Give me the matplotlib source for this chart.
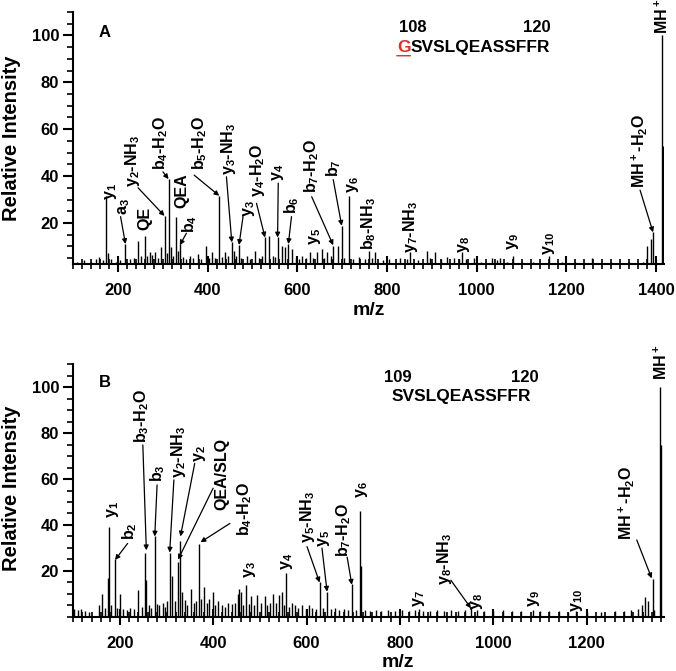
import matplotlib
matplotlib.use("Agg")
import matplotlib.pyplot as plt
from matplotlib.ticker import MultipleLocator

plt.rcParams["font.family"] = ["Liberation Sans", "DejaVu Sans"]
plt.rcParams["font.weight"] = "bold"
plt.rcParams["mathtext.fontset"] = "custom"
plt.rcParams["mathtext.rm"] = "Liberation Sans:bold"
plt.rcParams["mathtext.bf"] = "Liberation Sans:bold"
plt.rcParams["mathtext.default"] = "bf"

# ---- panel A: GSVSLQEASSFFR ----
a_mz = [108, 125, 140, 152, 159, 166, 174, 178, 185, 195, 205, 217, 226, 235, 245, 252, 260, 265,
        271, 276, 282, 289, 297, 304, 309, 313, 319, 324, 330, 334, 338, 345, 352, 360, 368, 379,
        386, 397, 403, 409, 416, 426, 432, 439, 446, 454, 458, 463, 470, 475, 487, 494, 506, 514,
        521, 528, 537, 545, 550, 556, 565, 573, 580, 588, 596, 603, 610, 619, 628, 636, 643, 654,
        660, 666, 674, 680, 690, 699, 705, 715, 725, 738, 750, 759, 766, 773, 790, 805, 830, 845,
        852, 868, 889, 896, 908, 921, 934, 950, 960, 967, 975, 993, 1010, 1034, 1045, 1052, 1068,
        1081, 1100, 1125, 1160, 1190, 1220, 1257, 1300, 1340, 1370, 1380, 1388, 1393, 1414, 1416]
a_int = [3.5, 4, 3.5, 4.5, 5.3, 4, 31.3, 7, 4.6, 3.5, 4, 11, 4.5, 5, 12.4, 6, 14.6, 6,
         7.7, 6.5, 7.7, 5, 9.6, 23, 7, 38.7, 9.6, 6, 22.4, 8, 11, 5.5, 4.5, 6, 5, 6.8,
         4.5, 10.3, 5, 7.5, 5, 31.6, 5.5, 7.5, 6, 11.7, 8, 6, 10.6, 5, 6, 4.5, 8, 5,
         6, 13.8, 14.6, 6, 5.5, 13.8, 10.3, 9.6, 11, 8.9, 5, 4.5, 6, 5, 7.5, 5, 7.5, 8.9,
         5, 7.5, 6, 10, 10, 18.8, 5, 31.6, 4.5, 5.5, 4.5, 8, 5, 7.5, 4, 4.5, 5, 4.5,
         7.5, 4, 8, 5, 7.5, 4.5, 5.3, 5, 4.5, 7.5, 4.5, 5, 3.5, 5, 4, 5, 3.5,
         6, 3.5, 3.5, 6, 3.5, 3.5, 5, 3.5, 3.5, 3.5, 10, 13, 16, 100, 53]

# label, text x, text y, arrow start (or None), arrow end
a_labels = [
    ("y$_1$", 185, 29.8, None, None),
    ("a$_3$", 215, 23.4, (206, 22.7), (217, 11)),
    ("QE", 260, 17, None, None),
    ("y$_2$-NH$_3$", 233.5, 35.5, (245, 35), (304, 23)),
    ("b$_4$-H$_2$O", 294.6, 42.5, (300.5, 41.8), (313, 38.7)),
    ("QEA", 343.7, 26.5, None, None),
    ("b$_4$", 360, 15.6, (352.7, 15.6), (338, 10.5)),
    ("b$_5$-H$_2$O", 382.5, 42.5, (370, 40.4), (426, 31.6)),
    ("y$_3$-NH$_3$", 446, 40.4, (442, 39.7), (454, 11.7)),
    ("y$_3$", 492, 22.7, (479, 22.7), (470, 10.6)),
    ("y$_4$-H$_2$O", 511, 31, (509, 28.4), (528, 13.8)),
    ("y$_4$", 557.5, 38, (557.5, 37), (556, 13.8)),
    ("b$_6$", 587, 24, (587, 22.7), (580, 11)),
    ("y$_5$", 640, 10.6, None, None),
    ("b$_7$-H$_2$O", 632, 32.6, (632, 31.2), (680, 10.5)),
    ("b$_7$", 680, 39.7, (680, 38.5), (699, 18.8)),
    ("y$_6$", 725, 32.6, None, None),
    ("b$_8$-NH$_3$", 759, 8.5, None, None),
    ("y$_7$-NH$_3$", 852, 7.2, None, None),
    ("y$_8$", 971, 7, None, None),
    ("y$_9$", 1081, 8.5, None, None),
    ("y$_{10}$", 1162, 6.4, None, None),
    ("MH$^+$-H$_2$O", 1362, 35, (1364, 34), (1393, 16)),
    ("MH$^+$", 1414, 100.6, None, None),
]

# ---- panel B: SVSLQEASSFFR ----
b_mz = [103, 110, 117, 125, 135, 155, 162, 168, 175, 176, 182, 189, 195, 201, 208, 215, 222, 230,
        240, 248, 255, 257, 263, 268, 275, 280, 285, 292, 297, 302, 307, 312, 318, 324, 329, 334,
        340, 345, 352, 358, 363, 369, 375, 380, 386, 392, 399, 405, 410, 418, 425, 432, 440, 447,
        453, 455, 460, 465, 470, 476, 482, 488, 495, 502, 510, 516, 522, 529, 535, 540, 547, 552,
        556, 562, 568, 575, 582, 590, 598, 605, 612, 620, 628, 635, 644, 652, 660, 670, 680, 688,
        697, 705, 715, 717, 725, 735, 748, 760, 775, 790, 805, 820, 832, 841, 850, 865, 880, 895,
        910, 925, 940, 952, 966, 980, 1000, 1020, 1040, 1060, 1084, 1100, 1120, 1140, 1160, 1176,
        1200, 1230, 1260, 1280, 1295, 1310, 1318, 1325, 1332, 1341, 1345, 1357, 1359]
b_int = [3.5, 3, 3.5, 2.5, 2, 5, 9.8, 4, 16.8, 39, 5, 25, 4, 10, 3.5, 3, 4, 3.5,
         11.7, 4.5, 28, 16, 5, 4, 35, 5.5, 5, 6, 4.5, 7, 28, 18, 7, 24, 33, 11,
         7.5, 5, 12, 6, 7, 31.7, 8, 13, 6, 8, 11, 5, 7, 5, 4.5, 6, 5.5, 6,
         10, 12, 11, 5, 14, 5.5, 9, 5, 9.5, 6, 9, 5, 6, 10, 6, 9.5, 11, 5,
         19, 4.5, 6, 5, 4, 5, 3.5, 5, 4, 3.5, 15, 4, 11, 3.5, 4, 3, 3.5, 3,
         14.5, 3, 46, 22, 3, 2.5, 3, 2.5, 3, 2.5, 3, 2.5, 3, 3.6, 2.5, 2.5, 3, 2.5,
         3, 2.5, 3, 4, 3, 2.5, 2.5, 3, 2.5, 2.5, 3, 2.5, 2.5, 2.5, 2, 2.5,
         2, 2, 2.5, 2.5, 3, 3.5, 5, 8.7, 7, 16.7, 3, 100, 75]

b_labels = [
    ("y$_1$", 185, 43, None, None),
    ("b$_2$", 221, 33.5, (217, 32), (190, 24.8)),
    ("b$_3$-H$_2$O", 246, 75.6, (249.5, 74.8), (257, 29)),
    ("b$_3$", 282, 58.8, (280, 57.4), (275, 35)),
    ("y$_2$-NH$_3$", 325, 60.4, (316, 59.6), (307, 28)),
    ("y$_2$", 371, 67.5, (360.6, 66.8), (330, 35)),
    ("QEA/SLQ", 418, 46.5, (400, 56), (325, 25)),
    ("b$_4$-H$_2$O", 468, 35, (436, 40.7), (373, 32.5)),
    ("y$_3$", 479, 16.8, None, None),
    ("y$_4$", 558, 20.4, None, None),
    ("y$_5$-NH$_3$", 601, 32, (601, 30.6), (628, 15)),
    ("y$_5$", 636.6, 30.6, (633, 30), (644, 11)),
    ("b$_7$-H$_2$O", 680, 26, (687, 26), (697, 14)),
    ("y$_6$", 719, 51.6, None, None),
    ("y$_7$", 841, 4.5, None, None),
    ("y$_8$-NH$_3$", 895, 14, (909, 16), (952, 3.8)),
    ("y$_8$", 966, 3, None, None),
    ("y$_9$", 1086, 4.5, None, None),
    ("y$_{10}$", 1179, 2.3, None, None),
    ("MH$^+$-H$_2$O", 1285, 33.5, (1307, 33.5), (1339, 16.8)),
    ("MH$^+$", 1360, 103, None, None),
]


def draw_spectrum(ax, mz, inten, labels, xlim, ylim):
    ax.vlines(mz, 0, inten, color="black", lw=1.0)
    for text, tx, ty, start, end in labels:
        ax.text(tx, ty, text, rotation=90, ha="center", va="bottom", fontsize=11.5, fontweight="bold")
        if start is not None:
            ax.annotate("", xy=end, xytext=start,
                        arrowprops=dict(arrowstyle="-|>", color="black", lw=0.9,
                                        mutation_scale=7, shrinkA=0, shrinkB=0))
    ax.set_xlim(*xlim)
    ax.set_ylim(*ylim)
    for side in ("top", "right"):
        ax.spines[side].set_visible(False)
    for side in ("left", "bottom"):
        ax.spines[side].set_linewidth(1.5)
    ax.xaxis.set_major_locator(MultipleLocator(200))
    ax.xaxis.set_minor_locator(MultipleLocator(20))
    ax.yaxis.set_minor_locator(MultipleLocator(5))
    ax.set_yticks([20, 40, 60, 80, 100])
    ax.tick_params(axis="x", which="major", direction="inout", length=12, width=1.5, pad=8, labelsize=12)
    ax.tick_params(axis="x", which="minor", direction="inout", length=7, width=1.2)
    ax.tick_params(axis="y", which="major", direction="out", length=7, width=1.5, pad=3, labelsize=12)
    ax.tick_params(axis="y", which="minor", direction="out", length=4, width=1.2)
    for lab in ax.get_xticklabels() + ax.get_yticklabels():
        lab.set_fontweight("bold")
    ax.set_ylabel("Relative Intensity", fontsize=14.5, fontweight="bold")
    ax.set_xlabel("m/z", fontsize=14, fontweight="bold")


fig = plt.figure(figsize=(6.76, 6.71), dpi=100)
ax_a = fig.add_axes([0.108, 0.6066, 0.874, 0.3755])
ax_b = fig.add_axes([0.108, 0.0805, 0.874, 0.377])

draw_spectrum(ax_a, a_mz, a_int, a_labels, (100, 1417), (2.5, 110))
draw_spectrum(ax_b, b_mz, b_int, b_labels, (100, 1365), (0, 110))

ax_a.yaxis.set_label_coords(-0.088, 0.5)
ax_b.yaxis.set_label_coords(-0.088, 0.51)
ax_a.xaxis.set_label_coords(0.50, -0.15)
ax_b.xaxis.set_label_coords(0.55, -0.145)

ax_a.text(0.054, 0.917, "A", transform=ax_a.transAxes, fontsize=12, fontweight="bold", ha="center", va="center")
ax_b.text(0.054, 0.925, "B", transform=ax_b.transAxes, fontsize=12, fontweight="bold", ha="center", va="center")

# residue numbering and sequences
ax_a.text(0.575, 0.937, "108", transform=ax_a.transAxes, fontsize=12, fontweight="bold", ha="center", va="center")
ax_a.text(0.785, 0.937, "120", transform=ax_a.transAxes, fontsize=12, fontweight="bold", ha="center", va="center")
g = ax_a.text(0.548, 0.861, "G", transform=ax_a.transAxes, fontsize=12.5, fontweight="bold",
              color="#d9312b", ha="left", va="center")
ax_a.annotate("SVSLQEASSFFR", xy=(1, 0), xycoords=g, ha="left", va="bottom", fontsize=12.5, fontweight="bold")
ax_a.annotate("", xy=(0, -0.08), xytext=(1, -0.08), xycoords=g, textcoords=g,
              arrowprops=dict(arrowstyle="-", color="#d9312b", lw=1.0, shrinkA=0, shrinkB=0))

ax_b.text(0.55, 0.945, "109", transform=ax_b.transAxes, fontsize=12, fontweight="bold", ha="center", va="center")
ax_b.text(0.765, 0.945, "120", transform=ax_b.transAxes, fontsize=12, fontweight="bold", ha="center", va="center")
ax_b.text(0.54, 0.87, "SVSLQEASSFFR", transform=ax_b.transAxes, fontsize=12.5, fontweight="bold", ha="left", va="center")

fig.savefig("out.png", dpi=100)
